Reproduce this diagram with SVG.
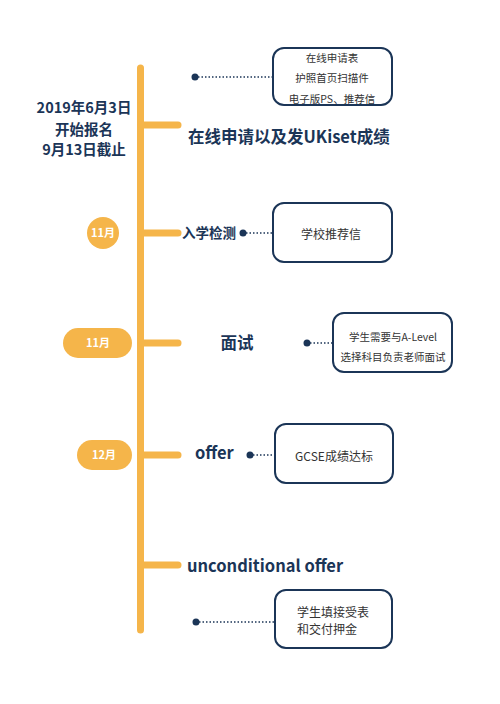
<svg xmlns="http://www.w3.org/2000/svg" width="500" height="704" viewBox="0 0 500 704">
<style>
.bg{fill:#ffffff}
.tl{stroke:#F5B54A;stroke-width:7;stroke-linecap:round;fill:none}
.br{stroke:#F5B54A;stroke-width:7;stroke-linecap:round;fill:none}
.dot{fill:#1B3557}
.dl{stroke:#1B3557;stroke-width:1.3;stroke-dasharray:1.5 2;fill:none}
.box{fill:#ffffff;stroke:#1B3557;stroke-width:2}
.pill{fill:#F5B54A}
.t{font-family:"Noto Sans CJK SC","Noto Sans",sans-serif;fill:#1B3557}
.h{font-size:16.5px;font-weight:bold}
.s{font-size:10.5px;fill:#333333}
.m{font-size:12px;fill:#333333}
.d{font-size:14.5px;font-weight:bold}
.k{font-size:13.5px;font-weight:bold}
.p{font-family:"Noto Sans CJK SC","Noto Sans",sans-serif;font-size:11px;font-weight:bold;fill:#ffffff}
</style>
<rect class="bg" x="0" y="0" width="500" height="704"/>
<g id="connectors">
<line class="tl" x1="140.5" y1="68" x2="140.5" y2="630"/>
<line class="br" x1="141" y1="125" x2="178" y2="125"/>
<line class="br" x1="141" y1="233" x2="178" y2="233"/>
<line class="br" x1="141" y1="343" x2="178" y2="343"/>
<line class="br" x1="141" y1="455" x2="178" y2="455"/>
<line class="br" x1="141" y1="565" x2="178" y2="565"/>
<circle class="dot" cx="195" cy="77" r="3.5"/>
<line class="dl" x1="198" y1="77" x2="273" y2="77"/>
<circle class="dot" cx="243" cy="233" r="3.5"/>
<line class="dl" x1="246" y1="233" x2="273" y2="233"/>
<circle class="dot" cx="307" cy="343" r="3.5"/>
<line class="dl" x1="310" y1="343" x2="333" y2="343"/>
<circle class="dot" cx="250" cy="455" r="3.5"/>
<line class="dl" x1="253" y1="455" x2="275" y2="455"/>
<circle class="dot" cx="196" cy="622" r="3.5"/>
<line class="dl" x1="199" y1="622" x2="275" y2="622"/>
</g>
<g id="date-start">
<text class="t d" x="84" y="113" text-anchor="middle">2019年6月3日</text>
<text class="t d" x="84" y="135" text-anchor="middle">开始报名</text>
<text class="t d" x="84" y="155" text-anchor="middle">9月13日截止</text>
</g>
<g id="step1">
<text class="t h" x="188" y="143">在线申请以及发UKiset成绩</text>
</g>
<g id="box1">
<rect class="box" x="273" y="48" width="119" height="57" rx="11"/>
<text class="t s" x="332" y="62" text-anchor="middle">在线申请表</text>
<text class="t s" x="332" y="82" text-anchor="middle">护照首页扫描件</text>
<text class="t s" x="332" y="103" text-anchor="middle">电子版PS、推荐信</text>
</g>
<g id="badge1">
<circle class="pill" cx="103" cy="233" r="16"/>
<text class="p" x="103" y="237" text-anchor="middle">11月</text>
</g>
<g id="step2">
<text class="t k" x="182" y="238">入学检测</text>
</g>
<g id="box2">
<rect class="box" x="273" y="203" width="119" height="59" rx="11"/>
<text class="t m" x="331" y="239" text-anchor="middle">学校推荐信</text>
</g>
<g id="badge2">
<rect class="pill" x="63" y="328" width="69" height="30" rx="15"/>
<text class="p" x="98" y="347" text-anchor="middle">11月</text>
</g>
<g id="step3">
<text class="t h" x="237" y="349" text-anchor="middle">面试</text>
</g>
<g id="box3">
<rect class="box" x="333" y="313" width="119" height="59" rx="11"/>
<text class="t s" x="393" y="341" text-anchor="middle">学生需要与A-Level</text>
<text class="t s" x="393" y="361" text-anchor="middle">选择科目负责老师面试</text>
</g>
<g id="badge3">
<rect class="pill" x="77" y="440" width="55" height="30" rx="15"/>
<text class="p" x="104" y="459" text-anchor="middle">12月</text>
</g>
<g id="step4">
<text class="t h" x="195" y="459">offer</text>
</g>
<g id="box4">
<rect class="box" x="275" y="424" width="118" height="59" rx="11"/>
<text class="t m" x="334" y="461" text-anchor="middle">GCSE成绩达标</text>
</g>
<g id="step5">
<text class="t h" x="187" y="572">unconditional offer</text>
</g>
<g id="box5">
<rect class="box" x="275" y="590" width="117" height="58" rx="11"/>
<text class="t m" x="297" y="617">学生填接受表</text>
<text class="t m" x="297" y="634">和交付押金</text>
</g>
</svg>
